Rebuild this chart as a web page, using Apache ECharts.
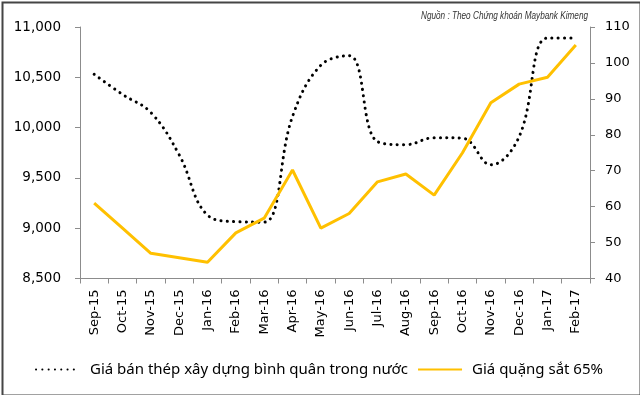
<!DOCTYPE html>
<html><head><meta charset="utf-8">
<script src="https://cdn.jsdelivr.net/npm/echarts@6/dist/echarts.min.js"></script>
<style>html,body{margin:0;padding:0;background:#fff}#c{width:640px;height:395px}</style>
</head><body><div id="c"></div>
<script>
const categories = ["Sep-15","Oct-15","Nov-15","Dec-15","Jan-16","Feb-16","Mar-16","Apr-16","May-16","Jun-16","Jul-16","Aug-16","Sep-16","Oct-16","Nov-16","Dec-16","Jan-17","Feb-17"];
const steelPrice = [10530,10330,10150,9730,9130,9065,9060,10110,10620,10715,9860,9830,9900,9895,9630,9910,10890,10890];
const ironOre = [61,54,47,45.8,44.5,52.7,56.8,70.2,54,58.1,66.9,69.1,63.2,75,88.9,94.1,96,105];
const seriesNames = ["Giá bán thép xây dựng bình quân trong nước","Giá quặng sắt 65%"];
const sourceText = "Nguồn : Theo Chứng khoán Maybank Kimeng";

const srcFont = 'italic 10.5px "Liberation Sans", sans-serif';
const mctx = document.createElement('canvas').getContext('2d');
mctx.font = srcFont;
const srcScale = 167 / mctx.measureText(sourceText).width;

const chart = echarts.init(document.getElementById('c'), null, {renderer:'canvas'});
const axisColor = '#8c8c8c';
const labelFont = {fontFamily:'DejaVu Sans', fontSize:13, color:'#000'};
chart.setOption({
  animation:false,
  backgroundColor:'#fff',
  grid:{left:80, right:50, top:27, bottom:116.5, containLabel:false},
  xAxis:{type:'category', data:categories, boundaryGap:true,
    axisLine:{lineStyle:{color:axisColor}},
    axisTick:{show:true, length:5, lineStyle:{color:axisColor}},
    axisLabel:Object.assign({rotate:90, margin:11, interval:0}, labelFont),
    splitLine:{show:false}},
  yAxis:[
    {type:'value', min:8500, max:11000, interval:500, position:'left',
     axisLine:{show:true, lineStyle:{color:axisColor}},
     axisTick:{show:true, length:5, lineStyle:{color:axisColor}},
     axisLabel:Object.assign({margin:19, formatter:v=>v.toLocaleString('en-US')}, labelFont, {fontSize:13.5}),
     splitLine:{show:false}},
    {type:'value', min:40, max:110, interval:10, position:'right',
     axisLine:{show:true, lineStyle:{color:axisColor}},
     axisTick:{show:true, length:5, lineStyle:{color:axisColor}},
     axisLabel:Object.assign({margin:15}, labelFont),
     splitLine:{show:false}}
  ],
  legend:{left:30, top:357, itemWidth:44, itemHeight:14, itemGap:9,
    itemStyle:{opacity:0},
    textStyle:{fontFamily:'Noto Sans', fontSize:15, color:'#000', padding:[0,0,0,5]},
    data:seriesNames},
  graphic:[
    {type:'text', x:588, y:16, scaleX:srcScale, scaleY:1,
     style:{text:sourceText, font:srcFont, fill:'#333', align:'right', verticalAlign:'middle'}},
    {type:'rect', left:0, top:0, shape:{x:1,y:1,width:638,height:393}, style:{fill:'none', stroke:'#454545', lineWidth:2}, silent:true}
  ],
  series:[
    {name:seriesNames[0], type:'line', yAxisIndex:0, data:steelPrice, smooth:0.4, symbol:'none',
     lineStyle:{color:'#000', width:3, type:[0.1,6.2], cap:'round'}, itemStyle:{color:'#000'}},
    {name:seriesNames[1], type:'line', yAxisIndex:1, data:ironOre, smooth:false, symbol:'none',
     lineStyle:{color:'#FFC000', width:3}, itemStyle:{color:'#FFC000'}, z:3}
  ]
});
</script></body></html>
